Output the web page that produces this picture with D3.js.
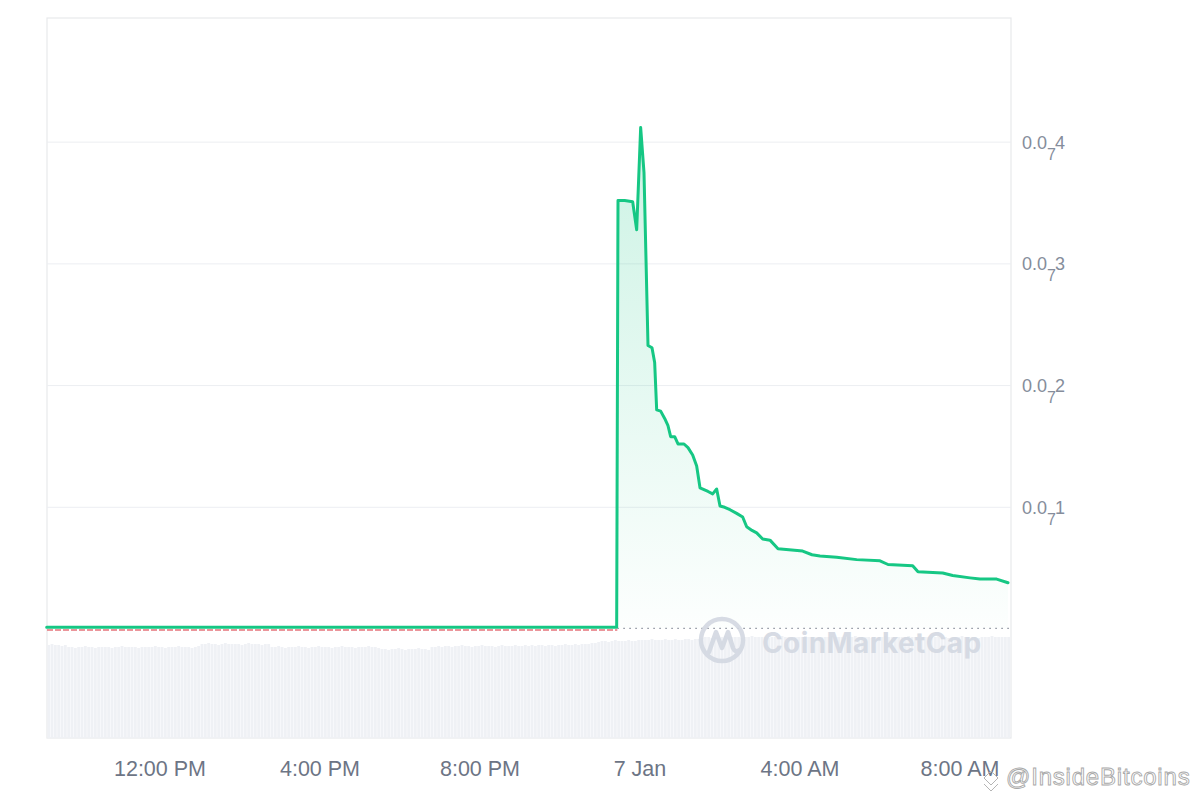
<!DOCTYPE html>
<html>
<head>
<meta charset="utf-8">
<script src="https://cdn.jsdelivr.net/npm/d3@7/dist/d3.min.js"></script>
<style>
  html, body { margin: 0; padding: 0; background: #ffffff; }
  svg { display: block; }
</style>
</head>
<body>
<svg id="chart" width="1200" height="800"></svg>
<script>
// ---------------- DATA (price in units of 1e-8, i.e. "0.0₇x") ----------------
const priceTimes = [
  "2024-01-06T09:10","2024-01-06T23:25","2024-01-06T23:27","2024-01-06T23:37","2024-01-06T23:49",
  "2024-01-06T23:55","2024-01-07T00:01","2024-01-07T00:06","2024-01-07T00:12","2024-01-07T00:18",
  "2024-01-07T00:22","2024-01-07T00:25","2024-01-07T00:31","2024-01-07T00:37","2024-01-07T00:42",
  "2024-01-07T00:46","2024-01-07T00:52","2024-01-07T00:57","2024-01-07T01:06","2024-01-07T01:12",
  "2024-01-07T01:19","2024-01-07T01:25","2024-01-07T01:30","2024-01-07T01:42","2024-01-07T01:49",
  "2024-01-07T01:55","2024-01-07T02:00","2024-01-07T02:07","2024-01-07T02:15","2024-01-07T02:25",
  "2024-01-07T02:34","2024-01-07T02:40","2024-01-07T02:48","2024-01-07T02:55","2024-01-07T03:04",
  "2024-01-07T03:15","2024-01-07T03:27","2024-01-07T04:04","2024-01-07T04:18","2024-01-07T04:30",
  "2024-01-07T04:55","2024-01-07T05:25","2024-01-07T06:00","2024-01-07T06:12","2024-01-07T06:49",
  "2024-01-07T06:57","2024-01-07T07:34","2024-01-07T07:49","2024-01-07T08:15","2024-01-07T08:30",
  "2024-01-07T08:55","2024-01-07T09:12"
];
const priceValues = [
  0.014,0.014,3.52,3.52,3.51,
  3.28,4.12,3.75,2.33,2.31,
  2.19,1.80,1.79,1.73,1.67,
  1.58,1.58,1.52,1.52,1.49,
  1.43,1.34,1.16,1.13,1.11,
  1.15,1.01,1.00,0.98,0.95,
  0.92,0.84,0.81,0.79,0.74,
  0.73,0.66,0.64,0.61,0.60,
  0.59,0.57,0.56,0.53,0.52,
  0.47,0.46,0.44,0.42,0.41,
  0.41,0.38
];
const openPrice = 0.005;           // reference (dotted) line
const switchTime = "2024-01-06T23:26"; // where the price leaves the reference line

// 5-minute volume bars (relative units)
const volumeStart = "2024-01-06T09:10:30";
const volumeStepMinutes = 5;
const volumeValues = [
  93,94,93,93,92,93,
  91,91,90,91,91,92,91,91,90,91, 91,91,91,90,91,91,92,91,91,91,
  91,90,91,91,91,91,92,91,91,90, 91,91,91,92,91,91,91,90,91,92,
  94,94,95,94,94,93,94,95,94,94, 94,94,93,94,95,94,94,94,93,94, 94,
  91,91,92,91,90,91,91,91,92,91, 91,90,91,91,92,91,91,91,90,91,
  91,92,91,91,91,90,91,91,91,92, 91,91,90,
  89,89,88,89,89,90,89,88,89,89, 89,90,89,89,88,
  91,91,92,91,92,92,91,92,92,93, 92,92,91,92,92,93,92,92,92,91,
  92,93,92,92,92,93,92,92,93,92, 93,92,93,93,92,93,93,92,93,93,
  94,93,93,94,93,94,94,94,95,95,
  96,97,97,96,97,98,97,97,97,98, 97,97,98,98,
  98,98,99,98,98,98,99,98,98,99, 98,98,99,99,98,99,99,100,
  101,101,100,101,101,101,102,101,101,101, 101,100,101,101,102,101,101,101,101,100,
  101,101,101,102,101,101,100,101,101,101, 102,101,101,101,100,101,101,101,102,101,
  101,101,100,101,101,102,101,101,101,101, 100,101,101,101,102,101,101,100,101,101,
  101,102,101,101,101,100,101,101,101,101, 102,101,101,100,101,101,101,102,101,101,
  101,101,100,101,101,101,102,101,101,101, 101,101
];

// axis ticks
const xTickTimes = ["2024-01-06T12:00","2024-01-06T16:00","2024-01-06T20:00","2024-01-07T00:00","2024-01-07T04:00","2024-01-07T08:00"];
const xTickLabels = ["12:00 PM","4:00 PM","8:00 PM","7 Jan","4:00 AM","8:00 AM"];
const yTickValues = [1, 2, 3, 4];
const yTickPrefix = "0.0";
const yTickSubscript = "7";

// ---------------- DRAW ----------------
const parse = s => new Date(s + "Z");
const svg = d3.select("#chart");

const plot = { left: 47, right: 1011, top: 18, bottom: 738 };
const x = d3.scaleUtc()
  .domain([parse("2024-01-06T09:10:30"), parse("2024-01-07T09:16:30")])
  .range([plot.left, plot.right]);
const y = d3.scaleLinear().domain([0, 5.02]).range([629, plot.top]);
const yVol = d3.scaleLinear().domain([0, 110]).range([plot.bottom, 628]);

const price = priceTimes.map((t, i) => ({ t: parse(t), v: priceValues[i] }));

// frame
svg.append("rect")
  .attr("x", plot.left).attr("y", plot.top)
  .attr("width", plot.right - plot.left).attr("height", plot.bottom - plot.top)
  .attr("fill", "#ffffff").attr("stroke", "#e8e9ec").attr("stroke-width", 1.2);

// grid lines
svg.append("g").selectAll("line").data(yTickValues).join("line")
  .attr("x1", plot.left).attr("x2", plot.right)
  .attr("y1", d => y(d)).attr("y2", d => y(d))
  .attr("stroke", "#eceef2").attr("stroke-width", 1);

// volume bars
const vStart = parse(volumeStart);
const stepMs = volumeStepMinutes * 60000;
const barW = x(new Date(vStart.getTime() + stepMs)) - x(vStart);
svg.append("g").selectAll("rect").data(volumeValues).join("rect")
  .attr("x", (d, i) => x(new Date(vStart.getTime() + i * stepMs)) + 0.25)
  .attr("width", Math.max(0.5, barW - 0.5))
  .attr("y", d => yVol(d))
  .attr("height", d => plot.bottom - yVol(d))
  .attr("fill", "#eff1f5");

// area gradient
const defs = svg.append("defs");
const grad = defs.append("linearGradient").attr("id", "areaGrad")
  .attr("gradientUnits", "userSpaceOnUse")
  .attr("x1", 0).attr("x2", 0).attr("y1", y(4.12)).attr("y2", y(openPrice));
grad.append("stop").attr("offset", "0%").attr("stop-color", "#16c784").attr("stop-opacity", 0.22);
grad.append("stop").attr("offset", "100%").attr("stop-color", "#16c784").attr("stop-opacity", 0.01);

const area = d3.area().x(d => x(d.t)).y0(y(openPrice)).y1(d => y(d.v));
svg.append("path").datum(price).attr("d", area).attr("fill", "url(#areaGrad)");

// reference line (red where price sits on it, grey dotted beyond)
const sw = parse(switchTime);
svg.append("line")
  .attr("x1", plot.left).attr("x2", x(sw))
  .attr("y1", y(openPrice) + 1.6).attr("y2", y(openPrice) + 1.6)
  .attr("stroke", "#e5737a").attr("stroke-width", 1.6).attr("stroke-dasharray", "6,2");
svg.append("line")
  .attr("x1", x(sw)).attr("x2", plot.right)
  .attr("y1", y(openPrice)).attr("y2", y(openPrice))
  .attr("stroke", "#8a909c").attr("stroke-width", 1.2).attr("stroke-dasharray", "1.5,4.5");

// price line
const line = d3.line().x(d => x(d.t)).y(d => y(d.v));
svg.append("path").datum(price).attr("d", line)
  .attr("fill", "none").attr("stroke", "#16c784").attr("stroke-width", 3)
  .attr("stroke-linejoin", "round").attr("stroke-linecap", "round");

// y-axis labels
const yl = svg.append("g").selectAll("text").data(yTickValues).join("text")
  .attr("x", 1022).attr("y", d => y(d) + 6.5)
  .attr("font-family", "'Liberation Sans', Arial, sans-serif")
  .attr("font-size", 18).attr("fill", "#858d9b");
yl.append("tspan").text(yTickPrefix);
yl.append("tspan").attr("dy", 11).attr("font-size", 16).text(yTickSubscript);
yl.append("tspan").attr("dy", -11).attr("dx", -1).text(d => d);

// x-axis labels
svg.append("g").selectAll("text").data(xTickTimes).join("text")
  .attr("x", d => x(parse(d))).attr("y", 776)
  .attr("text-anchor", "middle")
  .attr("font-family", "'Liberation Sans', Arial, sans-serif")
  .attr("font-size", 21.5).attr("fill", "#6d7585")
  .text((d, i) => xTickLabels[i]);

// CoinMarketCap watermark
const wm = svg.append("g").attr("opacity", 0.9);
wm.append("circle").attr("cx", 722).attr("cy", 640).attr("r", 21)
  .attr("fill", "none").attr("stroke", "#d3d8e2").attr("stroke-width", 4.5);
wm.append("path")
  .attr("d", "M709,652 L716,632 L722,648 L728,632 L733,648 Q735,653 740,650")
  .attr("fill", "none").attr("stroke", "#d3d8e2").attr("stroke-width", 4.5)
  .attr("stroke-linejoin", "round").attr("stroke-linecap", "round");
wm.append("text").attr("x", 762).attr("y", 653)
  .attr("font-family", "Inter, 'Noto Sans', sans-serif").attr("font-weight", 700)
  .attr("font-size", 28).attr("fill", "#d3d8e2").attr("letter-spacing", 0.4)
  .text("CoinMarketCap");

// InsideBitcoins watermark
const ib = svg.append("g");
ib.append("path")
  .attr("d", "M984,778 L991,771 L998,778 L991,785 Z M984,784 L991,791 L998,784")
  .attr("fill", "none").attr("stroke", "#b5b5b5").attr("stroke-width", 1);
ib.append("text").attr("x", 1006).attr("y", 785)
  .attr("font-family", "'Liberation Sans', Arial, sans-serif")
  .attr("font-size", 24).attr("fill", "#ffffff").attr("stroke", "#a9a9a9").attr("stroke-width", 0.9)
  .attr("letter-spacing", 0.8)
  .text("@InsideBitcoins");
</script>
</body>
</html>
